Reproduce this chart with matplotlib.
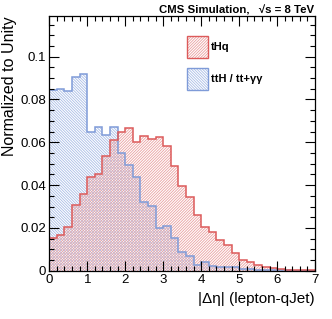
import numpy as np
import matplotlib
matplotlib.use("Agg")
import matplotlib.pyplot as plt
from matplotlib.ticker import MultipleLocator

plt.rcParams['font.family'] = ['Liberation Sans', 'DejaVu Sans']
plt.rcParams['hatch.linewidth'] = 0.6

# bin edges: 35 bins of width 0.2 from 0 to 7
edges = np.linspace(0, 7, 36)

thq = [0.0153, 0.0166, 0.0203, 0.0308, 0.0358, 0.0438, 0.0452, 0.0538, 0.0613, 0.0647,
       0.0666, 0.0600, 0.0631, 0.0617, 0.0627, 0.0581, 0.0490, 0.0398, 0.0345, 0.0260,
       0.0206, 0.0183, 0.0144, 0.0119, 0.0084, 0.0050, 0.0042, 0.0027, 0.0019, 0.0011,
       0.0008, 0.0005, 0.0004, 0.0004, 0.0003]
tth = [0.0844, 0.0848, 0.0838, 0.0906, 0.0920, 0.0650, 0.0670, 0.0634, 0.0670, 0.0550,
       0.0495, 0.0440, 0.0320, 0.0303, 0.0198, 0.0210, 0.0152, 0.0086, 0.0068, 0.0027,
       0.0040, 0.0023, 0.0019, 0.0019, 0.0016, 0.0010, 0.0010, 0.0006, 0.0004, 0.0003,
       0.0002, 0.0002, 0.0001, 0.0001, 0.0001]

red_line, red_hatch = '#dc5a5a', '#eaa0a0'
blue_line, blue_hatch = '#7f9bd8', '#a9bce6'
h_red, h_blue = '/' * 12, '\\' * 12

fig = plt.figure(figsize=(3.32, 3.19), dpi=100)
ax = fig.add_axes([0.1485, 0.151, 0.8005, 0.799])

ax.stairs(tth, edges, fill=True, facecolor='none', edgecolor=blue_hatch,
          hatch=h_blue, linewidth=0)
ax.stairs(thq, edges, fill=True, facecolor='none', edgecolor=red_hatch,
          hatch=h_red, linewidth=0)
ax.stairs(tth, edges, color=blue_line, linewidth=1.1)
ax.stairs(thq, edges, color=red_line, linewidth=1.1)

ax.set_xlim(0, 7)
ax.set_ylim(0, 0.119)
ax.xaxis.set_major_locator(MultipleLocator(1))
ax.xaxis.set_minor_locator(MultipleLocator(0.2))
ax.yaxis.set_minor_locator(MultipleLocator(0.005))
ax.set_yticks([0, 0.02, 0.04, 0.06, 0.08, 0.1])
ax.set_yticklabels(['0', '0.02', '0.04', '0.06', '0.08', '0.1'])
ax.tick_params(which='both', direction='in', top=True, right=True, labelsize=9.5)
ax.tick_params(which='major', length=7, width=0.8, pad=2.5)
ax.tick_params(which='minor', length=3.5, width=0.8)
for s in ax.spines.values():
    s.set_linewidth(0.9)

ax.set_ylabel('Normalized to Unity', fontsize=11.5, loc='top')
ax.yaxis.set_label_coords(-0.12, 1.0)
ax.set_xlabel('|Δη| (lepton-qJet)', fontsize=11, loc='right')

fig.text(0.946, 0.957, 'CMS Simulation,   √s = 8 TeV', ha='right',
         va='baseline', fontsize=8.2, fontweight='bold')

# legend boxes
for y0, lc, hc, hatch, label in [(0.818, red_line, red_hatch, h_red, 'tHq'),
                                 (0.718, blue_line, blue_hatch, h_blue, 'ttH / tt+γγ')]:
    fig.patches.append(plt.Rectangle((0.563, y0), 0.063, 0.068, transform=fig.transFigure,
                                     facecolor='none', edgecolor=hc, hatch=hatch, linewidth=0))
    fig.patches.append(plt.Rectangle((0.563, y0), 0.063, 0.068, transform=fig.transFigure,
                                     facecolor='none', edgecolor=lc, linewidth=1.0))
    fig.text(0.636, y0 + 0.034, label, ha='left', va='center', fontsize=8, fontweight='bold')

fig.savefig('out.png', dpi=100)
